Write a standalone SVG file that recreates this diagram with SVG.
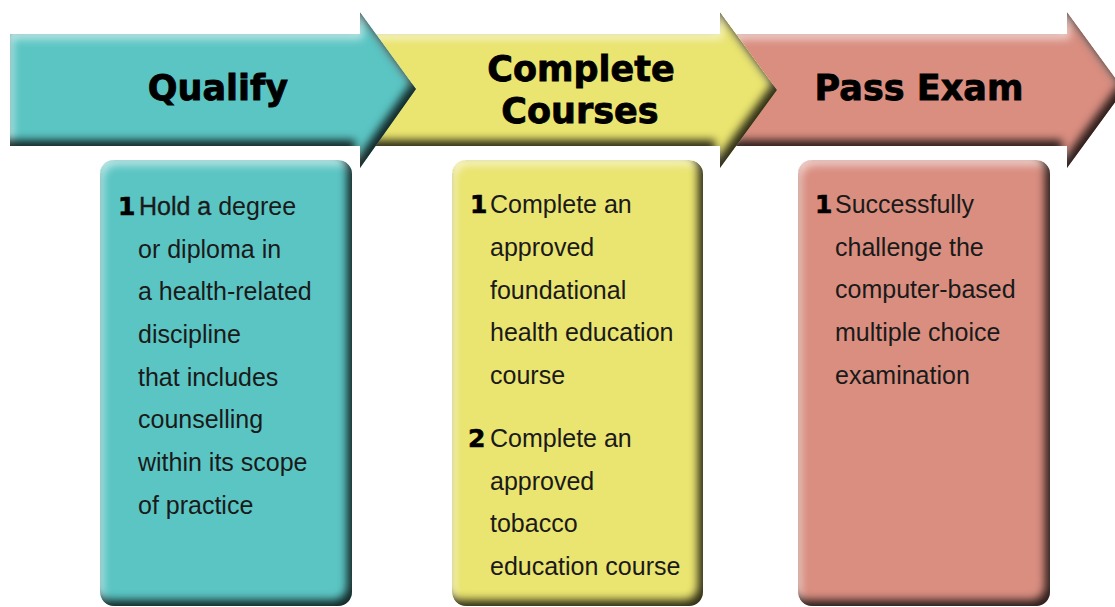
<svg xmlns="http://www.w3.org/2000/svg" width="1115" height="607" viewBox="0 0 1115 607">
<style>
.title{font-family:"DejaVu Sans",sans-serif;font-weight:bold;font-size:35px;fill:#000;stroke:#000;stroke-width:0.8;text-anchor:middle}
.body{font-family:"Liberation Sans",Arial,sans-serif;font-size:25px;fill:#1a1a1a}
.num{font-family:"DejaVu Sans",sans-serif;font-weight:bold;font-size:25px;fill:#000;stroke:#000;stroke-width:0.6}
.med{stroke:#1a1a1a;stroke-width:0.35}
.teal{fill:#5BC5C3}
.yellow{fill:#EAE470}
.salmon{fill:#D98E80}
</style>
<defs>
<filter id="bev" x="-5%" y="-5%" width="110%" height="110%" color-interpolation-filters="sRGB">
  <feGaussianBlur in="SourceAlpha" stdDeviation="4" result="blur"/>
  <feOffset in="blur" dx="-5" dy="-6" result="offS"/>
  <feComposite in="SourceAlpha" in2="offS" operator="arithmetic" k2="1" k3="-1" result="shMask"/>
  <feFlood flood-color="#000" flood-opacity="0.8"/>
  <feComposite in2="shMask" operator="in" result="shadow"/>
  <feOffset in="blur" dx="3" dy="5" result="offH"/>
  <feComposite in="SourceAlpha" in2="offH" operator="arithmetic" k2="1" k3="-1" result="hiMask"/>
  <feFlood flood-color="#fff" flood-opacity="0.6"/>
  <feComposite in2="hiMask" operator="in" result="hi"/>
  <feMerge><feMergeNode in="SourceGraphic"/><feMergeNode in="hi"/><feMergeNode in="shadow"/></feMerge>
</filter>
</defs>
<rect width="1115" height="607" fill="#fff"/>

<g id="node-pass-exam">
  <path class="salmon" filter="url(#bev)" d="M735,34 H1067 V12 L1124,90 L1067,168 V146 H735 Z"/>
  <text class="title" x="919" y="100">Pass Exam</text>
</g>
<g id="node-complete-courses">
  <path class="yellow" filter="url(#bev)" d="M372,34 H720 V12 L777,90 L720,168 V146 H372 Z"/>
  <text class="title" x="581" y="81">Complete</text>
  <text class="title" x="580" y="123">Courses</text>
</g>
<g id="node-qualify">
  <path class="teal" filter="url(#bev)" d="M10,34 H360 V12 L416,89 L360,168 V146 H10 Z"/>
  <text class="title" x="218" y="100">Qualify</text>
</g>

<g id="box-qualify">
  <rect class="teal" filter="url(#bev)" x="100" y="160" width="252" height="446" rx="14"/>
  <text class="body" x="118" y="215"><tspan class="num">1</tspan><tspan x="139" class="med">Hold a</tspan><tspan> degree</tspan></text>
  <text class="body" x="138" y="258">or diploma in</text>
  <text class="body" x="138" y="300">a health-related</text>
  <text class="body" x="138" y="343">discipline</text>
  <text class="body" x="138" y="386">that includes</text>
  <text class="body" x="138" y="428">counselling</text>
  <text class="body" x="138" y="471">within its scope</text>
  <text class="body" x="138" y="514">of practice</text>
</g>

<g id="box-complete-courses">
  <rect class="yellow" filter="url(#bev)" x="452" y="160" width="251" height="446" rx="14"/>
  <text class="body" x="470" y="213"><tspan class="num">1</tspan><tspan x="490">Complete an</tspan></text>
  <text class="body" x="490" y="256">approved</text>
  <text class="body" x="490" y="299">foundational</text>
  <text class="body" x="490" y="341">health education</text>
  <text class="body" x="490" y="384">course</text>
  <text class="body" x="468" y="447"><tspan class="num">2</tspan><tspan x="490">Complete an</tspan></text>
  <text class="body" x="490" y="490">approved</text>
  <text class="body" x="490" y="532">tobacco</text>
  <text class="body" x="490" y="575">education course</text>
</g>

<g id="box-pass-exam">
  <rect class="salmon" filter="url(#bev)" x="798" y="160" width="252" height="446" rx="14"/>
  <text class="body" x="815" y="213"><tspan class="num">1</tspan><tspan x="835">Successfully</tspan></text>
  <text class="body" x="835" y="256">challenge the</text>
  <text class="body" x="835" y="298">computer-based</text>
  <text class="body" x="835" y="341">multiple choice</text>
  <text class="body" x="835" y="384">examination</text>
</g>

<g id="connectors"/>
</svg>
